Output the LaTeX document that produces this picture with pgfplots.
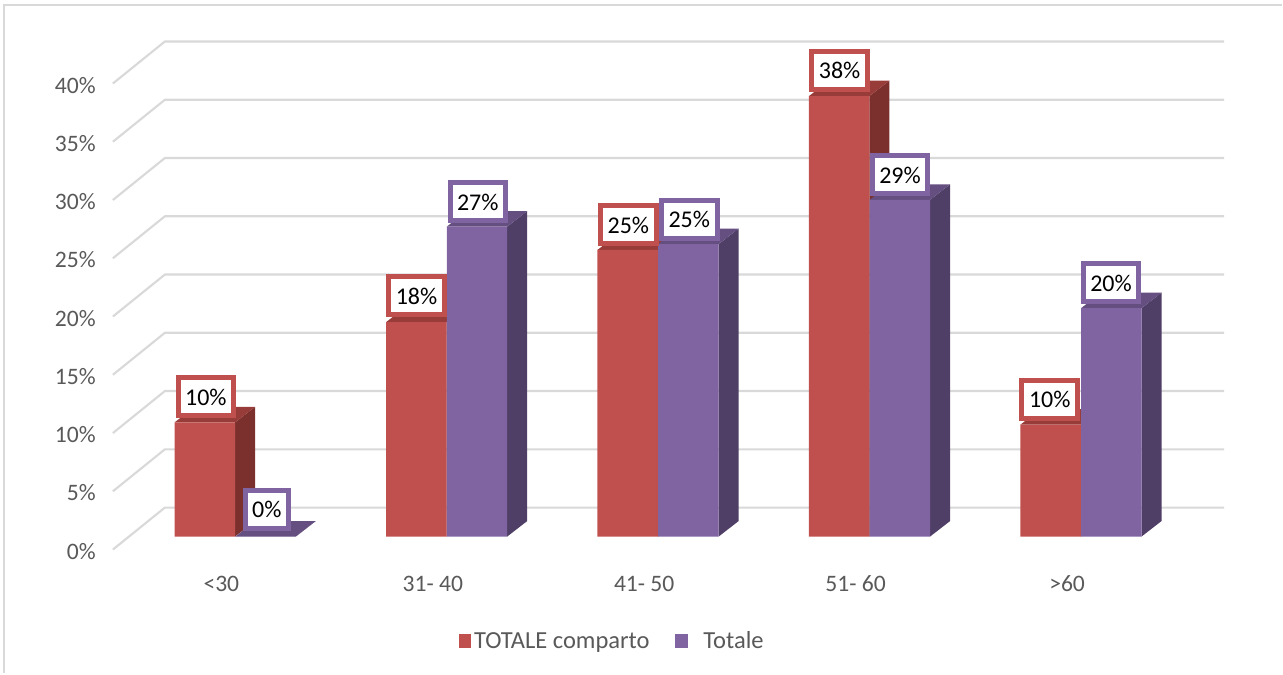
\documentclass[border=0pt]{standalone}
\usepackage{fontspec}
\setmainfont{Carlito}
\usepackage{pgfplots}
\usepackage{pgfplotstable}
\pgfplotsset{compat=1.18}

\definecolor{gridgrey}{HTML}{D9D9D9}
\definecolor{labelgrey}{HTML}{595959}
\definecolor{redfront}{HTML}{C0504D}
\definecolor{redside}{HTML}{7C302E}
\definecolor{redtop}{HTML}{983C39}
\definecolor{purplefront}{HTML}{8064A2}
\definecolor{purpleside}{HTML}{4F3E66}
\definecolor{purpletop}{HTML}{654F81}

% Share of each age band, in percent
\pgfplotstableread{
idx comparto totale
0   9.8      0
1   18.4     26.6
2   24.6     25.1
3   37.8     28.9
4   9.6      19.6
}\ages

% Callout centres and the value each one states
\pgfplotstableread{
lx     ly    v
-0.073 12.00 9.8
0.923  20.67 18.4
1.925  26.76 24.6
2.924  39.99 37.8
3.918  11.75 9.6
}\labelscomparto
\pgfplotstableread{
lx     ly    v
0.215  2.36  0
1.213  28.74 26.6
2.213  27.20 25.1
3.210  31.04 28.9
4.208  21.78 19.6
}\labelstotale

\newcommand{\barwidth}{0.2859}
\newcommand{\depthx}{0.0945}
\newcommand{\depthy}{1.33}

% Side and top faces of the bars of one series
\newcommand{\depthfaces}[4]{%
  \pgfplotsinvokeforeach{0,...,4}{%
    \pgfplotstablegetelem{##1}{#1}\of\ages
    \pgfmathsetmacro{\val}{\pgfplotsretval}%
    \pgfmathsetmacro{\xl}{##1+#2-\barwidth/2}%
    \pgfmathsetmacro{\xr}{##1+#2+\barwidth/2}%
    \pgfmathsetmacro{\xbl}{\xl+\depthx}%
    \pgfmathsetmacro{\xbr}{\xr+\depthx}%
    \pgfmathsetmacro{\vb}{\val+\depthy}%
    \edef\faces{%
      \noexpand\addplot[forget plot,fill=#3,draw=none]
        coordinates {(\xr,0) (\xbr,\depthy) (\xbr,\vb) (\xr,\val)} --cycle;
      \noexpand\addplot[forget plot,fill=#4,draw=none]
        coordinates {(\xl,\val) (\xr,\val) (\xbr,\vb) (\xbl,\vb)} --cycle;
    }\faces
  }%
}

\pgfplotsset{
  callout/.style={
    forget plot,draw=none,mark=none,
    nodes near coords={\pgfmathprintnumber[fixed,precision=0,assume math mode=true]{\pgfplotspointmeta}\%},
    point meta=explicit,
    nodes near coords style={
      anchor=center,fill=white,draw=#1,line width=3.75pt,text=black,
      inner xsep=5.3pt,inner ysep=0pt,minimum height=28.5pt,
      text height=12.5pt,text depth=0pt,
      font=\fontsize{18}{20}\selectfont
    }
  },
  square legend/.style={
    legend image code/.code={
      \fill[#1] (0pt,-5.2pt) rectangle (9.5pt,5.2pt);
    }
  }
}

\begin{document}
\begin{tikzpicture}
\begin{axis}[
  scale only axis,
  width=834pt,height=381pt,
  xmin=-0.5128,xmax=4.7424,
  ymin=-1.115,ymax=42.45,
  clip=false,
  axis x line=bottom,axis y line=left,
  axis line style={draw=none,-},
  major tick length=0pt,
  tick style={draw=none},
  xtick={0,1,2,3,4},
  xticklabels={<30,31- 40,41- 50,51- 60,>60},
  ytick={-1.115,3.885,8.885,13.885,18.885,23.885,28.885,33.885,38.885},
  yticklabels={0\%,5\%,10\%,15\%,20\%,25\%,30\%,35\%,40\%},
  tick label style={text=labelgrey,font=\fontsize{17.7}{20}\selectfont,inner sep=0pt},
  yticklabel style={anchor=east,xshift=-12.75pt,yshift=-1.2pt},
  xticklabel style={anchor=north,yshift=-19.7pt},
  legend style={
    draw=none,fill=none,
    at={(axis cs:1.85,-8.98)},anchor=center,
    font=\fontsize{18.4}{20}\selectfont,text=labelgrey,
    legend columns=2,
    /tikz/every even column/.append style={column sep=17.4pt},
    inner sep=0pt,
    nodes={inner xsep=2pt,inner ysep=0pt}
  },
  legend cell align=left,
]
  % Page frame and outer extent
  \path (axis cs:-1.0468,-11.75) rectangle (axis cs:5.0165,46.05);
  \draw[gridgrey,line width=1.5pt] (axis cs:-1.0279,-11.75) -- (axis cs:-1.0279,45.66) -- (axis cs:5.0165,45.66);

  % Floor, side wall and back wall lines
  \pgfplotsinvokeforeach{0,5,...,40}{
    \draw[gridgrey,line width=1.6pt,line join=round]
      (axis cs:-0.5128,{#1-1.115}) -- (axis cs:-0.267,{#1+2.487}) -- (axis cs:4.7424,{#1+2.487});
  }

  % TOTALE comparto
  \depthfaces{comparto}{-0.078}{redside}{redtop}
  \addplot[ybar,bar width=0.2859,bar shift=-0.078,fill=redfront,draw=none,square legend]
    table[x=idx,y=comparto] {\ages};
  \addlegendentry{TOTALE comparto}

  % Totale
  \depthfaces{totale}{0.2091}{purpleside}{purpletop}
  \addplot[ybar,bar width=0.2859,bar shift=0.2091,fill=purplefront,draw=none,square legend]
    table[x=idx,y=totale] {\ages};
  \addlegendentry{\hspace{9.5pt}Totale}

  % Value callouts
  \addplot[callout=redfront] table[x=lx,y=ly,meta=v] {\labelscomparto};
  \addplot[callout=purplefront] table[x=lx,y=ly,meta=v] {\labelstotale};
\end{axis}
\end{tikzpicture}
\end{document}
